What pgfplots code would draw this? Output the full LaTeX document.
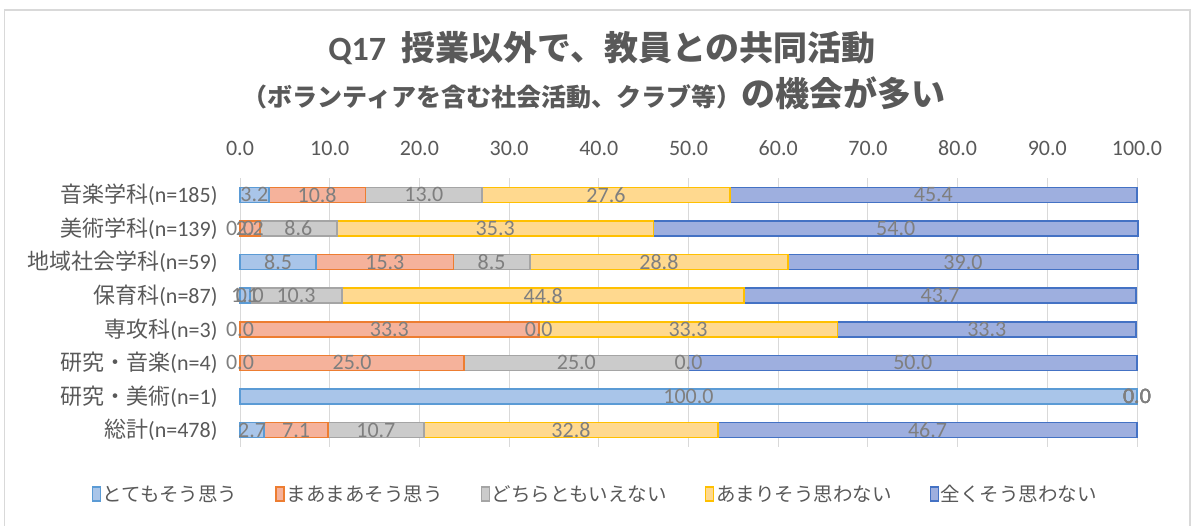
\documentclass[border=0pt]{standalone}
\usepackage{pgfplots}
\pgfplotsset{compat=1.18}
\usepackage{pgfplotstable}
\usepackage{fontspec}
\setmainfont{Carlito}
\newfontfamily\jp{Noto Sans CJK JP}
\definecolor{c1}{HTML}{5B9BD5}\definecolor{f1}{HTML}{A9C5E9}
\definecolor{c2}{HTML}{ED7D31}\definecolor{f2}{HTML}{F5B29B}
\definecolor{c3}{HTML}{A5A5A5}\definecolor{f3}{HTML}{CBCBCB}
\definecolor{c4}{HTML}{FFC000}\definecolor{f4}{HTML}{FFD98F}
\definecolor{c5}{HTML}{4472C4}\definecolor{f5}{HTML}{9EAFDF}
\definecolor{txt}{HTML}{595959}
\definecolor{lbl}{HTML}{7F7F7F}
\definecolor{grd}{HTML}{D9D9D9}

\pgfplotstableread{
y A B C D E
0 3.2 10.8 13.0 27.6 45.4
1 0.0 2.2 8.6 35.3 54.0
2 8.5 15.3 8.5 28.8 39.0
3 1.1 0.0 10.3 44.8 43.7
4 0.0 33.3 0.0 33.3 33.3
5 0.0 25.0 25.0 0.0 50.0
6 100.0 0.0 0.0 0.0 0.0
7 2.7 7.1 10.7 32.8 46.7
}\data

\pgfplotsset{
  legbox/.style={legend image code/.code={\draw[##1, line width=1.2bp] (0bp,-7bp) rectangle (8bp,7bp);}},
  common/.style={
    at={(240bp,-178bp)}, anchor=north west,
    width=897bp, height=269bp, scale only axis,
    xmin=0, xmax=100, ymin=-0.5, ymax=7.5, y dir=reverse,
    clip=false,
  },
}

\begin{document}
\begin{tikzpicture}
\useasboundingbox (0,0) rectangle (1193bp,-526bp);
\draw[grd, line width=1.5bp] (4.5bp,-530bp) -- (4.5bp,-10bp) -- (1190bp,-10bp) -- (1190bp,-530bp);

\node[text=txt, font=\fontsize{34bp}{38bp}\selectfont\jp\bfseries] at (602bp,-48bp)
  {{\rmfamily\bfseries Q17}\hspace{0.45em}授業以外で、教員との共同活動};
\node[text=txt, font=\fontsize{34bp}{38bp}\selectfont\jp\bfseries] at (594bp,-93bp)
  {{\fontsize{25bp}{30bp}\selectfont （ボランティアを含む社会活動、クラブ等）}の機会が多い};

\begin{axis}[common,
  xbar stacked, bar width=15bp,
  axis line style={draw=none},
  tick style={draw=none},
  xmajorgrids, grid style={grd, line width=1bp},
  xtick={0,10,...,100},
  xticklabel pos=upper,
  xticklabel={\pgfmathprintnumber[fixed,fixed zerofill,precision=1,assume math mode=true]{\tick}},
  xticklabel style={text=txt, font=\fontsize{22bp}{26bp}\selectfont, yshift=19bp},
  ytick={0,...,7},
  yticklabels={{\jp 音楽学科}(n=185),{\jp 美術学科}(n=139),{\jp 地域社会学科}(n=59),{\jp 保育科}(n=87),{\jp 専攻科}(n=3),{\jp 研究・音楽}(n=4),{\jp 研究・美術}(n=1),{\jp 総計}(n=478)},
  yticklabel style={text=txt, font=\fontsize{22bp}{26bp}\selectfont, xshift=-19bp},
  legend columns=5,
  legend style={at={(0.396,-0.175)}, anchor=center, draw=none, fill=none,
    font=\fontsize{19.5bp}{22bp}\selectfont\jp, text=txt,
    /tikz/every even column/.append style={column sep=36bp}},
  legend cell align=left,
]
\addplot[fill=f1, draw=c1, line width=1.6bp, legbox] table[x=A, y=y] {\data};
\addplot[fill=f2, draw=c2, line width=1.6bp, legbox] table[x=B, y=y] {\data};
\addplot[fill=f3, draw=c3, line width=1.6bp, legbox] table[x=C, y=y] {\data};
\addplot[fill=f4, draw=c4, line width=1.6bp, legbox] table[x=D, y=y] {\data};
\addplot[fill=f5, draw=c5, line width=1.6bp, legbox] table[x=E, y=y] {\data};
\legend{とてもそう思う,まあまあそう思う,どちらともいえない,あまりそう思わない,全くそう思わない}
\end{axis}

\begin{axis}[common, hide axis,
  nodes near coords={\pgfmathprintnumber[fixed,fixed zerofill,precision=1,assume math mode=true]{\pgfplotspointmeta}},
  every node near coord/.append style={anchor=center, text=lbl, font=\fontsize{22bp}{26bp}\selectfont},
]
\addplot[draw=none, mark=none, point meta=explicit] table[x expr=\thisrow{A}/2, y=y, meta=A] {\data};
\addplot[draw=none, mark=none, point meta=explicit] table[x expr=\thisrow{A}+\thisrow{B}/2, y=y, meta=B] {\data};
\addplot[draw=none, mark=none, point meta=explicit] table[x expr=\thisrow{A}+\thisrow{B}+\thisrow{C}/2, y=y, meta=C] {\data};
\addplot[draw=none, mark=none, point meta=explicit] table[x expr=\thisrow{A}+\thisrow{B}+\thisrow{C}+\thisrow{D}/2, y=y, meta=D] {\data};
\addplot[draw=none, mark=none, point meta=explicit] table[x expr=\thisrow{A}+\thisrow{B}+\thisrow{C}+\thisrow{D}+\thisrow{E}/2, y=y, meta=E] {\data};
\end{axis}
\end{tikzpicture}
\end{document}
